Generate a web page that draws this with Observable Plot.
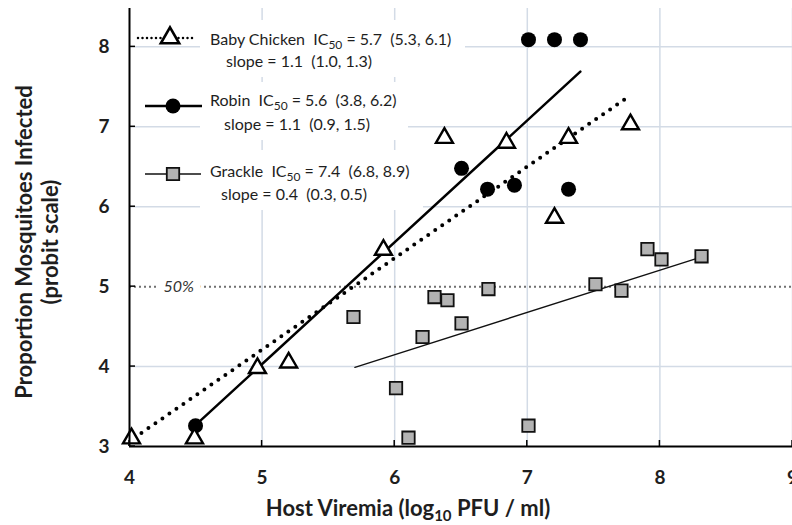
<!DOCTYPE html>
<html><head><meta charset="utf-8">
<script src="https://cdn.jsdelivr.net/npm/d3@7"></script>
<script src="https://cdn.jsdelivr.net/npm/@observablehq/plot@0.6"></script>
<style>
body{margin:0;background:#fff;}
svg{font-family:Lato,"Open Sans",sans-serif;}
</style></head><body><div id="chart"></div>
<script>
// ---- data ----
const xTicks = [4, 5, 6, 7, 8, 9];
const yTicks = [3, 4, 5, 6, 7, 8];
const xGrid = [5, 6, 7, 8, 9];
const yGrid = [4, 6, 7, 8];
const refLine = [5];
const refLabel = ["50%"];

const chickenX = [4.015, 4.49, 4.965, 5.20, 5.915, 6.375, 6.843, 7.205, 7.311, 7.778];
const chickenY = [3.10, 3.10, 3.98, 4.05, 5.46, 6.86, 6.80, 5.86, 6.86, 7.03];
const robinX = [4.498, 6.504, 6.70, 6.903, 7.311, 7.009, 7.205, 7.401];
const robinY = [3.26, 6.48, 6.22, 6.27, 6.22, 8.09, 8.09, 8.09];
const grackleX = [5.689, 6.21, 6.01, 6.104, 6.30, 6.398, 6.504, 6.707, 7.009, 7.514, 7.71, 7.906, 8.012, 8.314];
const grackleY = [4.62, 4.37, 3.73, 3.11, 4.87, 4.83, 4.54, 4.97, 3.26, 5.03, 4.95, 5.47, 5.34, 5.38];

const chickenFitX = [4.09, 7.74], chickenFitY = [3.17, 7.35];
const robinFitX = [4.50, 7.40], robinFitY = [3.27, 7.69];
const grackleFitX = [5.70, 8.31], grackleFitY = [3.99, 5.37];

const legendNames = ["Baby Chicken", "Robin", "Grackle"];
const legendIC50 = ["5.7  (5.3, 6.1)", "5.6  (3.8, 6.2)", "7.4  (6.8, 8.9)"];
const legendSlope = ["1.1  (1.0, 1.3)", "1.1  (0.9, 1.5)", "0.4  (0.3, 0.5)"];

// ---- tables ----
const pts = (xs, ys) => xs.map((x, i) => ({x, y: ys[i]}));
const chicken = pts(chickenX, chickenY);
const robin = pts(robinX, robinY);
const grackle = pts(grackleX, grackleY);
const chickenFit = pts(chickenFitX, chickenFitY);
const robinFit = pts(robinFitX, robinFitY);
const grackleFit = pts(grackleFitX, grackleFitY);

const gridStyle = {stroke: "#d3dbe6", strokeOpacity: 1, strokeWidth: 1.5};
const textCol = "#1e1e1e";

const chart = Plot.plot({
  width: 792, height: 525,
  marginLeft: 129, marginRight: 0, marginTop: 8, marginBottom: 79,
  x: {domain: [4, 9]},
  y: {domain: [3, 8.48]},
  style: {fontFamily: "Lato, sans-serif", background: "white"},
  marks: [
    Plot.gridX(xGrid, gridStyle),
    Plot.gridY(yGrid, gridStyle),
    Plot.ruleY(refLine, {stroke: "#707070", strokeWidth: 2, strokeDasharray: "2,3"}),
    Plot.text(refLabel, {y: refLine, frameAnchor: "left", dx: 34, textAnchor: "start",
      fontStyle: "italic", fontSize: 16, fill: "#333", stroke: "white", strokeWidth: 16}),
    Plot.line(grackleFit, {x: "x", y: "y", stroke: "#111", strokeWidth: 1.4}),
    Plot.line(robinFit, {x: "x", y: "y", stroke: "#000", strokeWidth: 2.5}),
    Plot.line(chickenFit, {x: "x", y: "y", stroke: "#000", strokeWidth: 4,
      strokeDasharray: "0,8.5", strokeLinecap: "round"}),
    Plot.dot(grackle, {x: "x", y: "y", symbol: "square", r: 7, fill: "#b3b3b3", stroke: "#111", strokeWidth: 1.8}),
    Plot.dot(robin, {x: "x", y: "y", symbol: "circle", r: 7.5, fill: "#000"}),
    Plot.dot(chicken, {x: "x", y: "y", symbol: "triangle", r: 6.3, fill: "white", stroke: "#000", strokeWidth: 2.4}),
    Plot.ruleX([4], {stroke: "#000", strokeWidth: 2}),
    Plot.ruleY([3], {stroke: "#000", strokeWidth: 2}),
    Plot.axisX({ticks: xTicks, tickFormat: "d", tickSize: 0, tickPadding: 24, fontSize: 19, fontWeight: "bold", fill: textCol, label: null}),
    Plot.axisY({ticks: yTicks, tickFormat: "d", tickSize: 0, tickPadding: 20, fontSize: 19, fontWeight: "bold", fill: textCol, label: null})
  ]
});
document.getElementById("chart").appendChild(chart);

// ---- decorations using the plot's scales ----
const svg = d3.select(chart);
const sx = chart.scale("x"), sy = chart.scale("y");
const X = v => sx.apply(v), Y = v => sy.apply(v);

// inward ticks
const tg = svg.append("g").attr("stroke", "#000").attr("stroke-width", 1.5);
xTicks.forEach(t => tg.append("line").attr("x1", X(t)).attr("x2", X(t)).attr("y1", Y(3)).attr("y2", Y(3) - 6));
yTicks.forEach(t => tg.append("line").attr("x1", X(4)).attr("x2", X(4) + 6).attr("y1", Y(t)).attr("y2", Y(t)));

// legend white boxes (behind data, above grid)
const boxes = d3.create("svg:g").attr("fill", "white");
[[200, 20, 265, 57], [200, 82, 208, 58], [200, 150, 223, 60]].forEach(b =>
  boxes.append("rect").attr("x", b[0]).attr("y", b[1]).attr("width", b[2]).attr("height", b[3]));
svg.select('g[aria-label="y-grid"]').node().after(boxes.node());

// legend
const lg = svg.append("g").attr("font-family", "Lato, sans-serif").attr("font-size", 16)
  .attr("fill", textCol).attr("text-anchor", "start");
const markY = [38, 106, 174];
const line1Y = [45, 106, 177];
const line2Y = [67, 130, 200];
const line2X = [226, 224, 221];
legendNames.forEach((name, i) => {
  const t = lg.append("text").attr("x", 210).attr("y", line1Y[i]).style("white-space", "pre");
  t.append("tspan").text(name + "  IC");
  t.append("tspan").attr("font-size", 12).attr("dy", 4).text("50");
  t.append("tspan").attr("dy", -4).text(" = " + legendIC50[i]);
  lg.append("text").attr("x", line2X[i]).attr("y", line2Y[i]).style("white-space", "pre")
    .text("slope = " + legendSlope[i]);
});
// markers
lg.append("line").attr("x1", 138).attr("x2", 196).attr("y1", markY[0]).attr("y2", markY[0])
  .attr("stroke", "#000").attr("stroke-width", 2.5).attr("stroke-dasharray", "0,4.5").attr("stroke-linecap", "round");
lg.append("path").attr("d", d3.symbol(d3.symbolTriangle, 6.8 * 6.8 * Math.PI)())
  .attr("transform", `translate(170,${markY[0]})`).attr("fill", "white").attr("stroke", "#000").attr("stroke-width", 2.6);
lg.append("line").attr("x1", 145).attr("x2", 202).attr("y1", markY[1]).attr("y2", markY[1])
  .attr("stroke", "#000").attr("stroke-width", 2.5);
lg.append("circle").attr("cx", 173).attr("cy", markY[1]).attr("r", 7.5).attr("fill", "#000");
lg.append("line").attr("x1", 145).attr("x2", 201).attr("y1", markY[2]).attr("y2", markY[2])
  .attr("stroke", "#111").attr("stroke-width", 1.5);
lg.append("path").attr("d", d3.symbol(d3.symbolSquare, 7 * 7 * Math.PI)())
  .attr("transform", `translate(173,${markY[2]})`).attr("fill", "#b3b3b3").attr("stroke", "#111").attr("stroke-width", 1.8);

// axis titles
const xt = svg.append("text").attr("x", 408).attr("y", 516).attr("text-anchor", "middle")
  .attr("font-size", 22).attr("font-weight", "bold").attr("fill", textCol);
xt.append("tspan").text("Host Viremia (log");
xt.append("tspan").attr("font-size", 15).attr("dy", 5).text("10");
xt.append("tspan").attr("dy", -5).text(" PFU / ml)");

const yt = svg.append("g").attr("transform", "translate(32,242) rotate(-90)")
  .attr("font-size", 22).attr("font-weight", "bold").attr("fill", textCol).attr("text-anchor", "middle");
yt.append("text").attr("x", 0).attr("y", 0).text("Proportion Mosquitoes Infected");
yt.append("text").attr("x", 0).attr("y", 26).text("(probit scale)");
</script></body></html>
